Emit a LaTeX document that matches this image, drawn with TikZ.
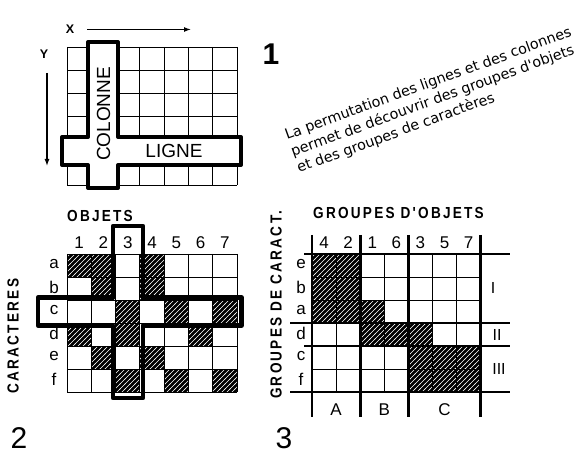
\documentclass[tikz,border=0pt]{standalone}
\usepackage{fontspec}
\setmainfont{Liberation Sans}
\newfontfamily\condf[FakeStretch=0.85,LetterSpace=14]{Liberation Sans}
\newfontfamily\rotf{DejaVu Sans}
\usetikzlibrary{arrows.meta,patterns}
\pgfdeclarepatternformonly{hatchw}{\pgfqpoint{-1pt}{-1pt}}{\pgfqpoint{6pt}{6pt}}{\pgfqpoint{5pt}{5pt}}{%
  \pgfsetlinewidth{0.6pt}%
  \pgfpathmoveto{\pgfqpoint{-0.6pt}{-0.6pt}}%
  \pgfpathlineto{\pgfqpoint{5.6pt}{5.6pt}}%
  \pgfusepath{stroke}}
\tikzset{
  gridline/.style={line width=0.9pt,black},
  heavy/.style={line width=4pt,black,line join=round},
  sep/.style={line width=2.6pt,black},
  hatchcell/.style={fill=black,postaction={pattern=hatchw,pattern color=white}},
  lab/.style={font=\fontsize{16}{16}\selectfont,inner sep=0pt},
  big/.style={font=\fontsize{19}{19}\selectfont,inner sep=0pt},
  ttl/.style={font=\condf\bfseries\fontsize{16}{16}\selectfont,inner sep=0pt},
  num/.style={font=\fontsize{30}{30}\selectfont,inner sep=0pt},
  rot/.style={font=\rotf\fontsize{14.3}{14.3}\selectfont,inner sep=0pt,rotate=20,anchor=base west},
  arr/.style={line width=1.3pt,-{Latex[length=7pt,width=5pt]}}
}
\begin{document}
\begin{tikzpicture}[x=1pt,y=-1pt]
\useasboundingbox (0,0) rectangle (584,454);
\fill[white] (0,0) rectangle (584,454);

% ---------- Panel 1 ----------
\foreach \i in {0,...,7} \draw[gridline] (67+\i*24.3,47) -- (67+\i*24.3,185);
\foreach \j in {0,...,6} \draw[gridline] (67,47+\j*23) -- (237.1,47+\j*23);
\fill[white] (88,42) rectangle (118,188);
\fill[white] (62,137) rectangle (241,165);
\draw[heavy] (88,42) -- (118,42) -- (118,137) -- (241,137) -- (241,165) -- (118,165)
  -- (118,188) -- (88,188) -- (88,165) -- (62,165) -- (62,137) -- (88,137) -- cycle;
\node[big,rotate=90] (colonne) at (103.5,114) {COLONNE};
\node[big] (ligne) at (174,151) {LIGNE};
\node[font=\bfseries\fontsize{12.5}{12.5}\selectfont,inner sep=0pt] (xl) at (70,29.5) {X};
\coordinate (xs) at (87,29.5);
\coordinate (xe) at (191,29.5);
\draw[arr] (xs) -- (xe);
\node[font=\bfseries\fontsize{12.5}{12.5}\selectfont,inner sep=0pt] (yl) at (44,54) {Y};
\coordinate (ys) at (47,73);
\coordinate (ye) at (47,166);
\draw[arr] (ys) -- (ye);
\node[font=\bfseries\fontsize{30}{30}\selectfont,inner sep=0pt] (one) at (271,54) {1};

% rotated caption
\node[rot] (t1) at (287,140) {La permutation des lignes et des colonnes};
\node[rot] (t2) at (293,156.5) {permet de découvrir des groupes d'objets};
\node[rot] (t3) at (299,173) {et des groupes de caractères};

% ---------- Panel 2 ----------
\foreach \r/\c in {0/0,0/1,0/3,1/1,1/3,2/2,2/4,2/6,3/0,3/2,3/5,4/1,4/3,5/2,5/4,5/6}
  \path[hatchcell] (67+\c*24.3,254+\r*23) rectangle ++(24.3,23);
\foreach \i in {0,...,7} \draw[gridline] (67+\i*24.3,254) -- (67+\i*24.3,392);
\foreach \j in {0,...,6} \draw[gridline] (67,254+\j*23) -- (237.1,254+\j*23);
\draw[heavy,line width=4.5pt] (113,226) -- (143,226) -- (143,297.5) -- (241.5,297.5) -- (241.5,325.5) -- (143,325.5)
  -- (143,398) -- (113,398) -- (113,325.5) -- (38,325.5) -- (38,297.5) -- (113,297.5) -- cycle;
\foreach \n [count=\k from 0] in {1,2,3,4,5,6,7}
  \node[lab,font=\fontsize{17}{17}\selectfont] (c2n\n) at (79.15+\k*24.3,243) {\n};
\foreach \l [count=\k from 0] in {a,b,c,d,e,f}
  \node[lab,font=\fontsize{17}{17}\selectfont] (c2l\l) at (54,264.5+\k*23) {\l};
\node[ttl] (objets) at (100,216) {OBJETS};
\node[ttl,rotate=90] (caract) at (13,336) {CARACTERES};
\node[num] (two) at (19,438) {2};

% ---------- Panel 3 ----------
\foreach \r/\c in {0/0,0/1,1/0,1/1,2/0,2/1,2/2,3/2,3/3,3/4,4/4,4/5,4/6,5/4,5/5,5/6}
  \path[hatchcell] (312+\c*24.1,254+\r*23) rectangle ++(24.1,23);
\foreach \i in {0,...,7} \draw[gridline] (312+\i*24.1,254) -- (312+\i*24.1,392);
\foreach \j in {0,...,6} \draw[gridline] (312,254+\j*23) -- (480.7,254+\j*23);
\foreach \y/\xl in {254/304,323/290,346/304,392/290} \draw[sep] (\xl,\y) -- (510,\y);
\foreach \x in {312,360.2,408.4,480.7} \draw[sep] (\x,235) -- (\x,417);
\foreach \n [count=\k from 0] in {4,2,1,6,3,5,7}
  \node[lab,font=\fontsize{17}{17}\selectfont] (c3n\k) at (324.05+\k*24.1,243) {\n};
\foreach \l [count=\k from 0] in {e,b,a,d,c,f}
  \node[lab,font=\fontsize{17}{17}\selectfont] (c3l\k) at (301,264.5+\k*23) {\l};
\node[lab] (gI) at (493,288) {I};
\node[lab] (gII) at (497,334.5) {II};
\node[lab] (gIII) at (499,369) {III};
\node[lab,font=\fontsize{17}{17}\selectfont] (gA) at (336,410) {A};
\node[lab,font=\fontsize{17}{17}\selectfont] (gB) at (384.3,410) {B};
\node[lab,font=\fontsize{17}{17}\selectfont] (gC) at (444.5,410) {C};
\node[ttl] (gobj) at (398.5,213) {GROUPES D'OBJETS};
\node[ttl,rotate=90] (gcar) at (276,305) {GROUPES DE CARACT.};
\node[num] (three) at (284,438) {3};
\end{tikzpicture}
\end{document}
